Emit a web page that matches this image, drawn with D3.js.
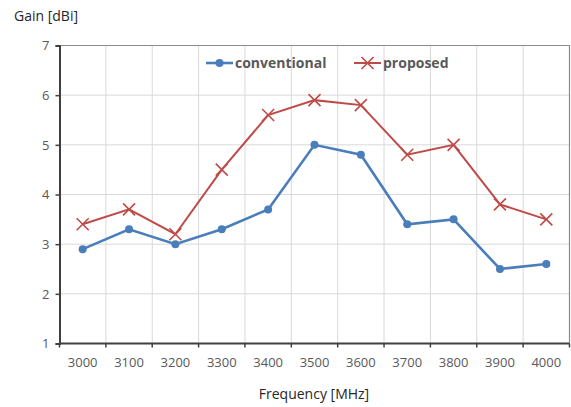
<!DOCTYPE html>
<html><head><meta charset="utf-8">
<script src="https://cdn.jsdelivr.net/npm/d3@7"></script>
<style>body{margin:0;background:#fff}svg{display:block}</style>
</head><body><svg id="c" width="571" height="407"></svg>
<script>
const categories = ["3000","3100","3200","3300","3400","3500","3600","3700","3800","3900","4000"];
const conventional = [2.9,3.3,3.0,3.3,3.7,5.0,4.8,3.4,3.5,2.5,2.6];
const proposed = [3.4,3.7,3.2,4.5,5.6,5.9,5.8,4.8,5.0,3.8,3.5];
const yTicks = [1,2,3,4,5,6,7];

const svg = d3.select("#c");
const L=59.5, R=569.5, T=45.5, B=343.5;
const x = d3.scaleBand().domain(categories).range([L,R]);
const y = d3.scaleLinear().domain([1,7]).range([B,T]);
const font = "'Open Sans', 'Liberation Sans', sans-serif";

// gridlines
svg.append("g").selectAll("line.h").data(yTicks).join("line")
  .attr("x1",L).attr("x2",R).attr("y1",d=>y(d)).attr("y2",d=>y(d))
  .attr("stroke","#d9d9d9").attr("stroke-width",1);
const bounds = categories.map(c=>x(c)).concat([R]);
svg.append("g").selectAll("line.v").data(bounds.slice(1)).join("line")
  .attr("x1",d=>d).attr("x2",d=>d).attr("y1",T).attr("y2",B)
  .attr("stroke","#d9d9d9").attr("stroke-width",1);
// plot border top/right
svg.append("path").attr("d",`M${L},${T}H${R}V${B}`).attr("fill","none").attr("stroke","#8c8c8c").attr("stroke-width",1.2);

// axes
const yAxis = d3.axisLeft(y).tickValues(yTicks).tickSize(4).tickPadding(6).tickFormat(d3.format("d"));
const gy = svg.append("g").attr("transform",`translate(${L},0)`).call(yAxis);
const gx = svg.append("g").attr("transform",`translate(0,${B})`);
gx.append("line").attr("x1",L).attr("x2",R).attr("stroke","#404040").attr("stroke-width",2);
gx.selectAll("line.t").data(bounds).join("line").attr("class","t")
  .attr("x1",d=>d).attr("x2",d=>d).attr("y1",0).attr("y2",4).attr("stroke","#404040").attr("stroke-width",1.5);
gx.selectAll("text").data(categories).join("text")
  .attr("x",d=>x(d)+x.bandwidth()/2).attr("y",23).attr("text-anchor","middle")
  .attr("fill","#595959").attr("font-size",13).attr("font-family",font).text(d=>d);
gy.select(".domain").attr("stroke","#404040").attr("stroke-width",2);
gy.selectAll(".tick line").attr("stroke","#404040").attr("stroke-width",1.5);
gy.selectAll(".tick text").attr("fill","#595959").attr("font-size",13).attr("font-family",font);

// series
const cx = (d,i)=>x(categories[i])+x.bandwidth()/2;
const line = d3.line().x(cx).y(d=>y(d));
svg.append("path").datum(proposed).attr("d",line).attr("fill","none").attr("stroke","#be4b48").attr("stroke-width",2);
svg.append("path").datum(conventional).attr("d",line).attr("fill","none").attr("stroke","#4a7ebb").attr("stroke-width",2.6);
svg.append("g").selectAll("circle").data(conventional).join("circle")
  .attr("cx",cx).attr("cy",d=>y(d)).attr("r",4).attr("fill","#4a7ebb");
const s=6;
svg.append("g").selectAll("path").data(proposed).join("path")
  .attr("d",(d,i)=>{const px=cx(d,i),py=y(d);return `M${px-s},${py-s}L${px+s},${py+s}M${px-s},${py+s}L${px+s},${py-s}`;})
  .attr("stroke","#be4b48").attr("stroke-width",1.6).attr("fill","none");

// legend
const lg = svg.append("g");
lg.append("line").attr("x1",206).attr("x2",233).attr("y1",63).attr("y2",63).attr("stroke","#4a7ebb").attr("stroke-width",2.6);
lg.append("circle").attr("cx",219.5).attr("cy",63).attr("r",4).attr("fill","#4a7ebb");
lg.append("text").attr("x",235).attr("y",68).attr("font-size",14).attr("font-weight","bold").attr("fill","#595959").attr("font-family",font).text("conventional");
lg.append("line").attr("x1",354).attr("x2",381).attr("y1",63).attr("y2",63).attr("stroke","#be4b48").attr("stroke-width",2);
lg.append("path").attr("d",`M${367.5-s},${63-s}L${367.5+s},${63+s}M${367.5-s},${63+s}L${367.5+s},${63-s}`).attr("stroke","#be4b48").attr("stroke-width",1.6);
lg.append("text").attr("x",383).attr("y",68).attr("font-size",14).attr("font-weight","bold").attr("fill","#595959").attr("font-family",font).text("proposed");

// titles
svg.append("text").attr("x",14).attr("y",21).attr("font-size",14).attr("fill","#262626").attr("font-family",font).text("Gain [dBi]");
svg.append("text").attr("x",314).attr("y",399).attr("text-anchor","middle").attr("font-size",14).attr("fill","#262626").attr("font-family",font).text("Frequency [MHz]");
</script></body></html>
